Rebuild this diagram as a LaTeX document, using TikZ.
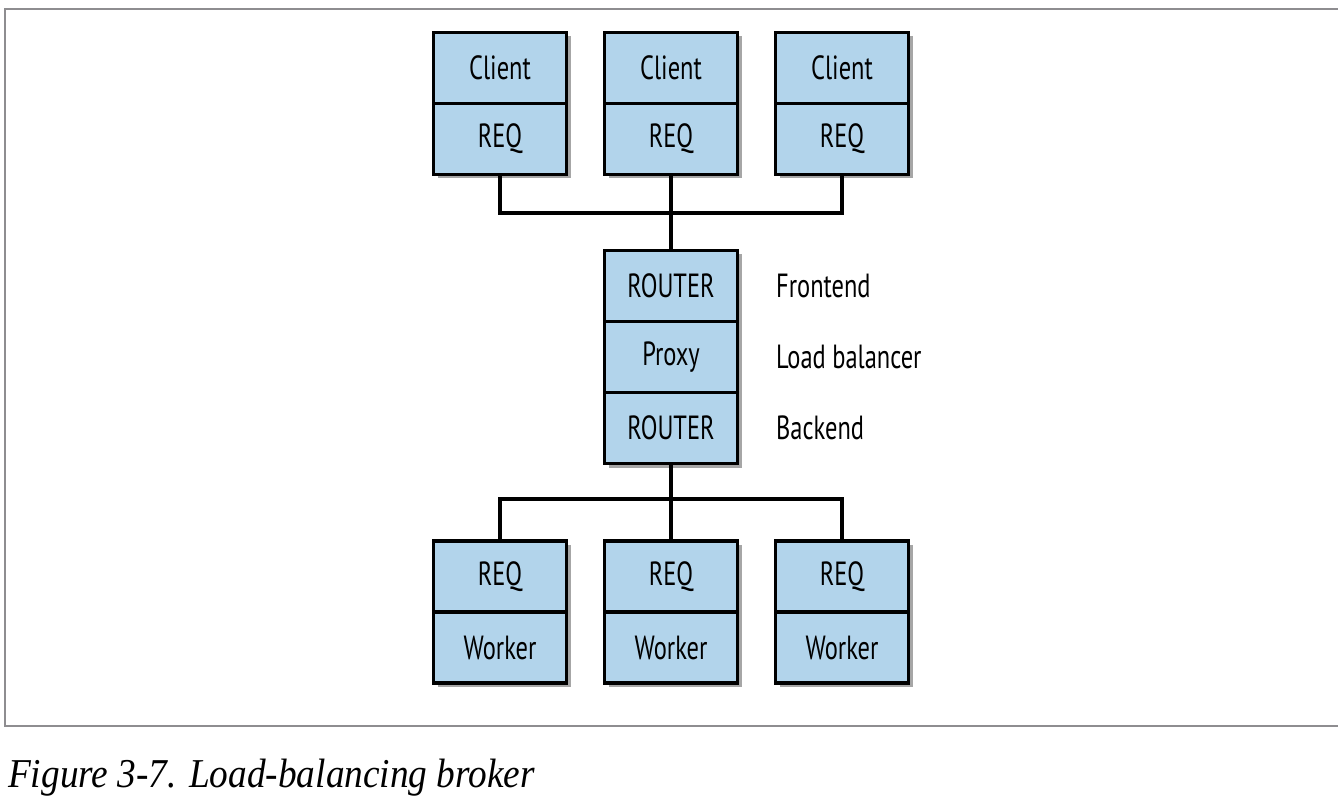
\documentclass[tikz,border=0pt]{standalone}
\usepackage{fontspec}
\setsansfont{PT Sans}[FakeStretch=0.73]
\newfontfamily\capfont{Liberation Serif}[FakeStretch=0.91]
\usetikzlibrary{shadows}
\definecolor{cellblue}{HTML}{B2D4EB}
\definecolor{framegray}{HTML}{8E8D90}
\tikzset{
  cell/.style={draw=black, line width=3.2pt, fill=cellblue,
    minimum width=133pt, minimum height=71pt, inner sep=0pt,
    font=\sffamily\fontsize{33.5}{36}\selectfont,
    drop shadow={shadow xshift=4pt, shadow yshift=-4pt, opacity=0.35, fill=black}},
  wire/.style={line width=3.2pt},
  sidelbl/.style={anchor=west, inner sep=0pt, font=\sffamily\fontsize{33.5}{36}\selectfont},
}
\begin{document}
\begin{tikzpicture}[x=1pt,y=-1pt]
\useasboundingbox (0,0) rectangle (1338,802);
\fill[white] (0,0) rectangle (1338,802);
\draw[framegray, line width=1.8pt] (1345,9) -- (5,9) -- (5,726) -- (1345,726);
% clients
\foreach \i/\x in {1/500,2/671,3/842}{
  \node[cell] (c\i) at (\x,68) {Client};
  \node[cell] (cr\i) at (\x,139) {REQ};
}
% broker
\node[cell] (fe) at (671,286) {ROUTER};
\node[cell] (px) at (671,357) {Proxy};
\node[cell] (be) at (671,428) {ROUTER};
% workers
\foreach \i/\x in {1/500,2/671,3/842}{
  \node[cell] (wr\i) at (\x,576.5) {REQ};
  \node[cell] (w\i) at (\x,647.5) {Worker};
}
% side labels
\node[sidelbl] (lfe) at (776,286) {Frontend};
\node[sidelbl] (lpx) at (776,357) {Load balancer};
\node[sidelbl] (lbe) at (776,428) {Backend};
% wires
\coordinate (top) at (671,213);
\coordinate (bot) at (671,499);
\draw[wire] (cr1.south) |- (top) -| (cr3.south);
\draw[wire] (cr2.south) -- (fe.north);
\draw[wire] (be.south) -- (wr2.north);
\draw[wire] (wr1.north) |- (bot) -| (wr3.north);
% caption
\node[anchor=base west, inner sep=0pt, font=\capfont\itshape\fontsize{41}{46}\selectfont] (cap) at (8,787) {Figure 3-7. Load-balancing broker};
\end{tikzpicture}
\end{document}
